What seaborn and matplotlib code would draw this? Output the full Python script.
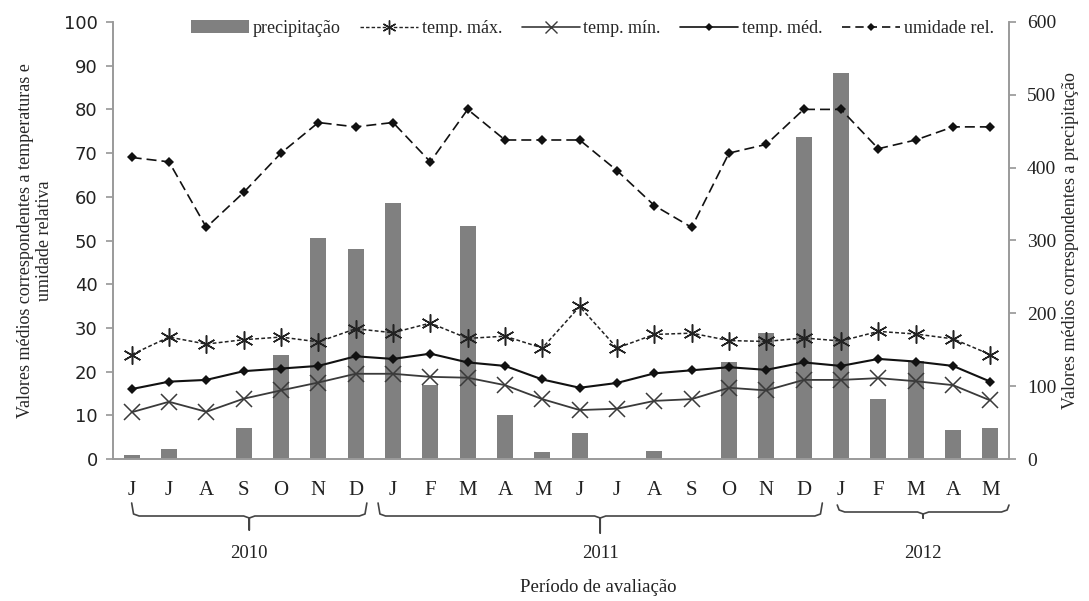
import numpy as np
import matplotlib
matplotlib.use("Agg")
import matplotlib.pyplot as plt
import matplotlib.transforms as mtransforms
from matplotlib.lines import Line2D
from matplotlib.patches import Patch
import seaborn as sns

# data
months = ["J", "J", "A", "S", "O", "N", "D",
          "J", "F", "M", "A", "M", "J", "J", "A", "S", "O", "N", "D",
          "J", "F", "M", "A", "M"]
years = ["2010", "2011", "2012"]
precip = [5, 14, 0, 43, 143, 303, 289,
          351, 102, 320, 61, 10, 36, 0, 11, 0, 133, 173, 442,
          530, 82, 134, 40, 43]
temp_max = [23.9, 27.9, 26.3, 27.3, 27.9, 26.8, 29.8,
            28.9, 31.1, 27.6, 28.1, 25.4, 34.9, 25.4, 28.5, 28.8, 27.1, 26.9, 27.7,
            27.0, 29.2, 28.6, 27.5, 23.9]
temp_min = [10.7, 13.1, 10.8, 13.8, 15.7, 17.5, 19.5,
            19.5, 18.8, 18.6, 16.9, 13.7, 11.2, 11.5, 13.3, 13.7, 16.3, 15.7, 18.1,
            18.1, 18.5, 17.8, 16.9, 13.4]
temp_med = [16.0, 17.7, 18.1, 20.1, 20.7, 21.3, 23.5,
            22.9, 24.1, 22.1, 21.3, 18.2, 16.3, 17.4, 19.6, 20.3, 21.0, 20.4, 22.1,
            21.3, 22.9, 22.3, 21.3, 17.7]
umidade = [69, 68, 53, 61, 70, 77, 76,
           77, 68, 80, 73, 73, 73, 66, 58, 53, 70, 72, 80,
           80, 71, 73, 76, 76]

idx = np.arange(len(months))
serif = "Liberation Serif"
axis_gray = "#9a9a9a"

sns.set_theme(style="white")
plt.rcParams["font.family"] = ["Liberation Serif", "DejaVu Sans"]

fig = plt.figure(figsize=(10.89, 6.01), dpi=100)
ax = fig.add_axes([113 / 1089, 142 / 601, (1009 - 113) / 1089, (459 - 22) / 601])
ax2 = ax.twinx()
ax.set_zorder(ax2.get_zorder() + 1)
ax.patch.set_visible(False)

# precipitation bars on the right axis
sns.barplot(x=idx, y=precip, ax=ax2, color="#808080", width=0.42,
            saturation=1, edgecolor="none")
ax2.set_ylim(0, 600)
ax2.set_yticks(range(0, 601, 100))
ax2.set_ylabel("Valores médios correspondentes a precipitação",
               fontsize=13, family=serif, labelpad=4)
ax2.tick_params(axis="y", labelsize=14, colors="#222222", length=5,
                color=axis_gray, direction="out", pad=8)

# temperature and humidity lines on the left axis
sns.lineplot(x=idx, y=temp_max, ax=ax, color="#222222", lw=1.1, ls=(0, (2.5, 1.5)),
             marker=(6, 2, 0), markersize=13, markeredgewidth=1.1,
             markeredgecolor="#222222")
sns.lineplot(x=idx, y=temp_min, ax=ax, color="#3a3a3a", lw=1.3,
             marker="x", markersize=11, markeredgewidth=1.1,
             markeredgecolor="#3a3a3a")
sns.lineplot(x=idx, y=temp_med, ax=ax, color="#111111", lw=1.5,
             marker="D", markersize=5, markeredgewidth=0)
sns.lineplot(x=idx, y=umidade, ax=ax, color="#111111", lw=1.2, ls=(0, (6, 3)),
             marker="D", markersize=5, markeredgewidth=0)

ax.set_ylim(0, 100)
ax.set_yticks(range(0, 101, 10))
ax.set_xlim(-0.5, len(months) - 0.5)
ax2.set_xlim(-0.5, len(months) - 0.5)
ax.tick_params(axis="y", labelsize=13, colors="#222222", length=5,
               color=axis_gray, direction="out", pad=6, left=True)
for t in ax.get_yticklabels():
    t.set_family("DejaVu Sans")
ax.set_ylabel("Valores médios correspondentes a temperaturas e\numidade relativa",
              fontsize=13, family=serif, labelpad=8, linespacing=1.1)

# x ticks: boundaries as ticks, month letters as minor labels
ax.set_xticks(np.arange(-0.5, len(months), 1.0))
ax.set_xticklabels([])
ax.set_xticks(idx, minor=True)
ax.set_xticklabels(months, minor=True, fontsize=15, family=serif)
ax.tick_params(axis="x", which="major", length=6, color=axis_gray,
               direction="out", bottom=True)
ax.tick_params(axis="x", which="minor", length=0, pad=16, colors="#222222")
ax2.set_xticks([])
ax2.set_xlabel("")

for a in (ax, ax2):
    a.spines["top"].set_visible(False)
    for side in ("left", "right", "bottom"):
        a.spines[side].set_color(axis_gray)
        a.spines[side].set_linewidth(1.2)

# year braces under the month labels
trans = mtransforms.blended_transform_factory(ax.transData, fig.transFigure)


def fy(py):
    return 1 - py / 601


def brace(x0, x1, top, mid, tip, label):
    xc = (x0 + x1) / 2
    xs = [x0, x0 + 0.05, x0 + 0.2, xc - 0.15, xc, xc, xc, xc + 0.15, x1 - 0.2, x1 - 0.05, x1]
    ys = [top, mid - 2, mid, mid, mid + 2, tip, mid + 2, mid, mid, mid - 2, top]
    fig.add_artist(Line2D(xs, [fy(v) for v in ys], transform=trans,
                          color="#444444", lw=1.2))
    fig.text(xc, fy(553), label, transform=trans, ha="center", va="center",
             fontsize=13.5, family=serif, color="#222222")


brace(0.0, 6.3, 503, 516, 530, years[0])
brace(6.6, 18.5, 503, 516, 533, years[1])
brace(18.9, 23.5, 505, 512, 518, years[2])
fig.text(598 / 1089, fy(588), "Período de avaliação", ha="center", va="center",
         fontsize=13.5, family=serif, color="#222222")

# legend in one row along the top
handles = [
    Patch(facecolor="#808080", edgecolor="none"),
    Line2D([], [], color="#222222", lw=1.0, ls=(0, (2.5, 1.5)), marker=(6, 2, 0),
           markersize=10, markeredgewidth=1.0),
    Line2D([], [], color="#3a3a3a", lw=1.2, marker="x", markersize=9,
           markeredgewidth=1.0),
    Line2D([], [], color="#111111", lw=1.2, marker="D", markersize=4,
           markeredgewidth=0),
    Line2D([], [], color="#111111", lw=1.2, ls=(0, (5, 3)), marker="D",
           markersize=4, markeredgewidth=0),
]
labels = ["precipitação", "temp. máx.", "temp. mín.", "temp. méd.", "umidade rel."]
ax.legend(handles, labels, loc="center", bbox_to_anchor=(0.535, 0.985), ncol=5,
          frameon=False, handlelength=3.2, handletextpad=0.2,
          columnspacing=1.1, prop={"family": serif, "size": 13})

fig.savefig("out.png", dpi=100, facecolor="white")
